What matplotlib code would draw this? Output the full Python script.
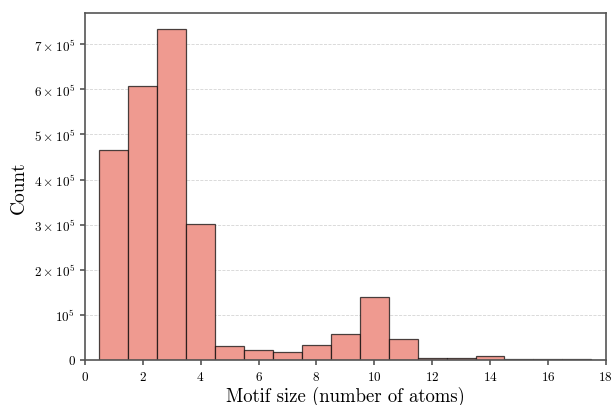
import numpy as np
import matplotlib
matplotlib.use("Agg")
import matplotlib.pyplot as plt

plt.rcParams["font.family"] = "serif"
plt.rcParams["font.serif"] = ["cmr10"]
plt.rcParams["mathtext.fontset"] = "cm"
plt.rcParams["axes.unicode_minus"] = False
plt.rcParams["axes.formatter.use_mathtext"] = True

# motif sizes (bin centres) and counts
sizes = [1, 2, 3, 4, 5, 6, 7, 8, 9, 10, 11, 12, 13, 14, 15, 16, 17, 18]
counts = [465000, 608000, 733000, 302000, 30000, 23000, 17500, 33000, 57000,
          140000, 46500, 3500, 5300, 9000, 3000, 1500, 2500, 500]
x_ticks = [0, 2, 4, 6, 8, 10, 12, 14, 16, 18]
y_ticks = [0, 1e5, 2e5, 3e5, 4e5, 5e5, 6e5, 7e5]
y_tick_labels = ["0", r"$10^5$", r"$2\times10^5$", r"$3\times10^5$", r"$4\times10^5$",
                 r"$5\times10^5$", r"$6\times10^5$", r"$7\times10^5$"]

fig = plt.figure(figsize=(6.15, 4.06), dpi=100)
ax = fig.add_axes([0.138, 0.111, 0.847, 0.855])

bins = np.arange(0.5, 19.5, 1.0)
ax.hist(sizes, bins=bins, weights=counts, facecolor="#ef9a90",
        edgecolor=(0, 0, 0, 0.7), linewidth=0.9)

ax.set_xlim(0, 18)
ax.set_xticks(x_ticks)
ax.set_yticks(y_ticks)
ax.set_yticklabels(y_tick_labels)
ax.grid(axis="y", linestyle="--", color="#d5d5d5", linewidth=0.6)
ax.set_axisbelow(True)

for s in ax.spines.values():
    s.set_color("#555555")
    s.set_linewidth(1.2)
ax.tick_params(colors="#555555", labelcolor="black", labelsize=9.5, width=1.2)

ax.set_xlabel("Motif size (number of atoms)", fontsize=13.5, labelpad=2)
ax.set_ylabel("Count", fontsize=14)

fig.savefig("out.png", dpi=100)
